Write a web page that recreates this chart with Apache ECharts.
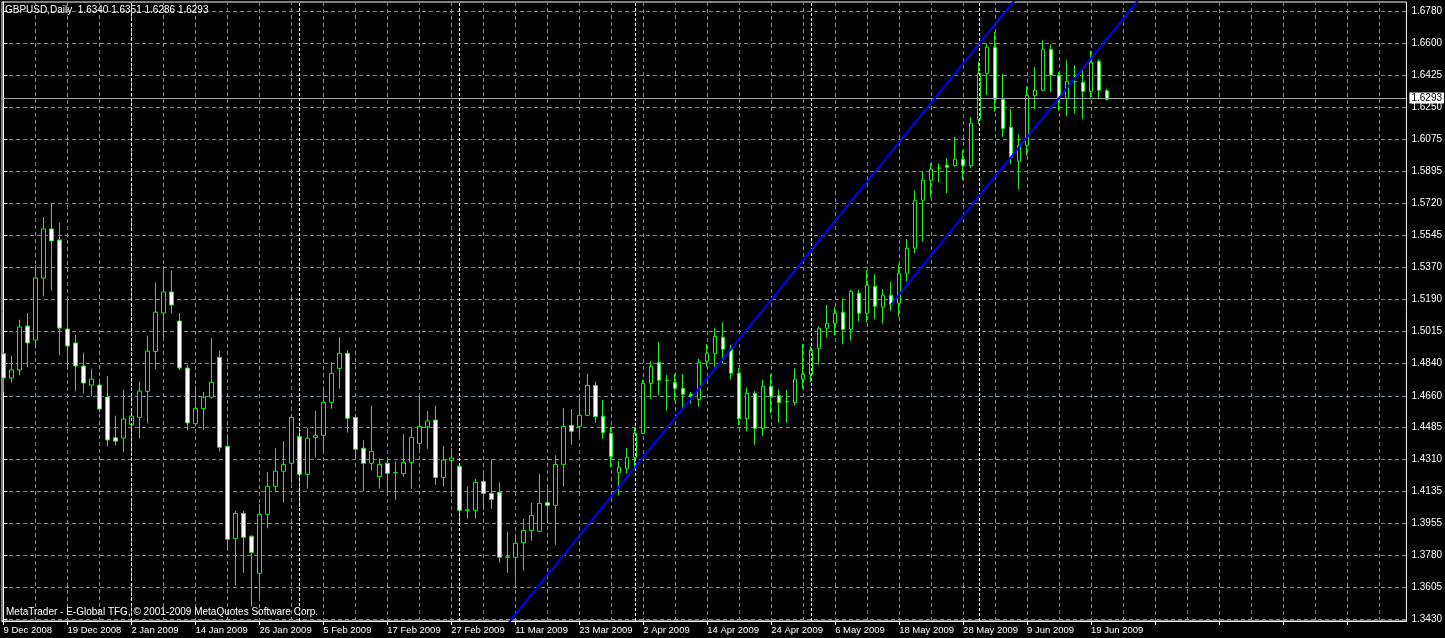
<!DOCTYPE html>
<html><head><meta charset="utf-8">
<script src="https://cdn.jsdelivr.net/npm/echarts@6/dist/echarts.min.js"></script>
<style>html,body{margin:0;padding:0;background:#000;}#c{width:1445px;height:638px;}</style>
</head><body><div id="c"></div><script>
const headerText = 'GBPUSD,Daily  1.6340 1.6351 1.6286 1.6293';
const footerText = 'MetaTrader - E-Global TFG, \u00A9 2001-2009 MetaQuotes Software Corp.';
const dates = [
'2008.12.09','2008.12.10','2008.12.11','2008.12.12','2008.12.15','2008.12.16','2008.12.17','2008.12.18','2008.12.19','2008.12.22','2008.12.23','2008.12.24','2008.12.26','2008.12.29','2008.12.30','2008.12.31',
'2009.01.02','2009.01.05','2009.01.06','2009.01.07','2009.01.08','2009.01.09','2009.01.12','2009.01.13','2009.01.14','2009.01.15','2009.01.16','2009.01.19','2009.01.20','2009.01.21','2009.01.22','2009.01.23','2009.01.26','2009.01.27','2009.01.28','2009.01.29','2009.01.30',
'2009.02.02','2009.02.03','2009.02.04','2009.02.05','2009.02.06','2009.02.09','2009.02.10','2009.02.11','2009.02.12','2009.02.13','2009.02.16','2009.02.17','2009.02.18','2009.02.19','2009.02.20','2009.02.23','2009.02.24','2009.02.25','2009.02.26','2009.02.27',
'2009.03.02','2009.03.03','2009.03.04','2009.03.05','2009.03.06','2009.03.09','2009.03.10','2009.03.11','2009.03.12','2009.03.13','2009.03.16','2009.03.17','2009.03.18','2009.03.19','2009.03.20','2009.03.23','2009.03.24','2009.03.25','2009.03.26','2009.03.27','2009.03.30','2009.03.31',
'2009.04.01','2009.04.02','2009.04.03','2009.04.06','2009.04.07','2009.04.08','2009.04.09','2009.04.10','2009.04.13','2009.04.14','2009.04.15','2009.04.16','2009.04.17','2009.04.20','2009.04.21','2009.04.22','2009.04.23','2009.04.24','2009.04.27','2009.04.28','2009.04.29','2009.04.30',
'2009.05.01','2009.05.04','2009.05.05','2009.05.06','2009.05.07','2009.05.08','2009.05.11','2009.05.12','2009.05.13','2009.05.14','2009.05.15','2009.05.18','2009.05.19','2009.05.20','2009.05.21','2009.05.22','2009.05.25','2009.05.26','2009.05.27','2009.05.28','2009.05.29',
'2009.06.01','2009.06.02','2009.06.03','2009.06.04','2009.06.05','2009.06.08','2009.06.09','2009.06.10','2009.06.11','2009.06.12','2009.06.15','2009.06.16','2009.06.17','2009.06.18','2009.06.19','2009.06.22','2009.06.23'
];
const opens = [
1.4892,1.4758,1.4802,1.5044,1.4967,1.5309,1.5579,1.5518,1.5028,1.4951,1.4824,1.4719,1.4719,1.4653,1.4429,1.4427,
1.4502,1.4541,1.4684,1.4904,1.5116,1.5232,1.5072,1.4813,1.4506,1.4589,1.4652,1.4872,1.4382,1.3873,1.4012,1.3886,1.3682,1.4007,1.4161,1.4244,1.4288,
1.4435,1.4227,1.4431,1.4442,1.4624,1.4811,1.4894,1.4541,1.4371,1.4288,1.4214,1.4288,1.4236,1.4231,1.4293,1.4398,1.4489,1.4526,1.4210,1.4304,
1.4271,1.4029,1.4029,1.4188,1.4122,1.4128,1.3770,1.3770,1.3850,1.3918,1.3913,1.4071,1.4056,1.4282,1.4497,1.4490,1.4552,1.4717,1.4547,1.4453,1.4236,1.4258,
1.4321,1.4453,1.4728,1.4844,1.4745,1.4734,1.4701,1.4668,1.4640,1.4850,1.4894,1.4982,1.4916,1.4784,1.4534,1.4673,1.4479,1.4712,1.4661,1.4627,1.4622,1.4751,
1.4778,1.4920,1.5032,1.5059,1.5120,1.5026,1.5225,1.5114,1.5263,1.5148,1.5214,1.5170,1.5335,1.5473,1.5737,1.5847,1.5913,1.5930,1.5928,1.5963,1.5928,
1.6181,1.6436,1.6580,1.6293,1.6139,1.5952,1.6040,1.6315,1.6343,1.6569,1.6426,1.6299,1.6390,1.6387,1.6337,1.6503,1.6340
];
const highs = [
1.4901,1.4881,1.5079,1.5116,1.5380,1.5645,1.5722,1.5614,1.5189,1.4996,1.4897,1.4809,1.4752,1.4770,1.4550,1.4693,
1.4574,1.4737,1.4991,1.5283,1.5375,1.5349,1.5116,1.4831,1.4714,1.4681,1.4979,1.4907,1.4446,1.4025,1.4025,1.3891,1.4062,1.4240,1.4371,1.4411,1.4560,
1.4468,1.4481,1.4576,1.4710,1.4846,1.4984,1.4912,1.4560,1.4416,1.4604,1.4315,1.4310,1.4300,1.4449,1.4482,1.4662,1.4576,1.4604,1.4383,1.4372,
1.4288,1.4159,1.4201,1.4238,1.4310,1.4183,1.3911,1.3887,1.3981,1.4069,1.4229,1.4150,1.4332,1.4593,1.4587,1.4648,1.4780,1.4736,1.4637,1.4490,1.4299,1.4372,
1.4486,1.4747,1.4850,1.4956,1.4774,1.4780,1.4780,1.4681,1.4864,1.4945,1.5032,1.5065,1.4940,1.4813,1.4706,1.4686,1.4747,1.4778,1.4697,1.4692,1.4811,1.4945,
1.4931,1.5041,1.5159,1.5148,1.5197,1.5243,1.5243,1.5353,1.5331,1.5247,1.5287,1.5384,1.5524,1.5792,1.5893,1.5941,1.5941,1.5969,1.6086,1.6014,1.6196,
1.6501,1.6602,1.6664,1.6433,1.6240,1.6100,1.6363,1.6471,1.6618,1.6596,1.6444,1.6508,1.6481,1.6464,1.6561,1.6514,1.6351
];
const lows = [
1.4679,1.4734,1.4772,1.4816,1.4921,1.5208,1.5241,1.4882,1.4802,1.4684,1.4673,1.4657,1.4568,1.4381,1.4386,1.4348,
1.4372,1.4425,1.4508,1.4805,1.4976,1.5114,1.4802,1.4469,1.4490,1.4472,1.4644,1.4352,1.3807,1.3617,1.3685,1.3498,1.3544,1.3930,1.4128,1.4071,1.4178,
1.4049,1.4148,1.4319,1.4361,1.4589,1.4699,1.4457,1.4310,1.4134,1.4247,1.4148,1.4109,1.4087,1.4214,1.4148,1.4361,1.4368,1.4170,1.4159,1.4104,
1.3953,1.3983,1.3983,1.4030,1.4038,1.3742,1.3685,1.3626,1.3696,1.3861,1.3908,1.3957,1.3839,1.4159,1.4390,1.4435,1.4548,1.4512,1.4423,1.4266,1.4111,1.4232,
1.4269,1.4449,1.4644,1.4662,1.4578,1.4633,1.4585,1.4616,1.4600,1.4820,1.4820,1.4839,1.4750,1.4497,1.4464,1.4390,1.4438,1.4563,1.4512,1.4512,1.4609,1.4699,
1.4734,1.4832,1.4982,1.4993,1.4944,1.4964,1.5069,1.5063,1.5081,1.5059,1.5129,1.5096,1.5291,1.5445,1.5509,1.5754,1.5836,1.5776,1.5922,1.5849,1.5915,
1.6157,1.6317,1.6225,1.6087,1.5937,1.5799,1.5983,1.6238,1.6337,1.6334,1.6231,1.6201,1.6214,1.6183,1.6293,1.6293,1.6286
];
const closes = [
1.4758,1.4802,1.5039,1.4951,1.5309,1.5579,1.5513,1.5033,1.4934,1.4824,1.4730,1.4752,1.4587,1.4416,1.4410,1.4532,
1.4548,1.4686,1.4906,1.5121,1.5232,1.5160,1.4813,1.4510,1.4591,1.4652,1.4734,1.4376,1.3869,1.4012,1.3880,1.3797,1.4007,1.4161,1.4244,1.4282,1.4541,
1.4227,1.4426,1.4442,1.4624,1.4784,1.4894,1.4536,1.4365,1.4288,1.4354,1.4282,1.4232,1.4238,1.4293,1.4431,1.4491,1.4521,1.4210,1.4306,1.4317,
1.4029,1.4031,1.4183,1.4122,1.4089,1.3770,1.3772,1.3847,1.3918,1.4001,1.4067,1.4056,1.4282,1.4491,1.4464,1.4552,1.4717,1.4545,1.4457,1.4324,1.4266,1.4321,
1.4453,1.4728,1.4822,1.4745,1.4743,1.4701,1.4668,1.4655,1.4844,1.4894,1.4987,1.4916,1.4784,1.4534,1.4673,1.4479,1.4712,1.4655,1.4622,1.4629,1.4751,1.4778,
1.4911,1.5032,1.5059,1.5114,1.5026,1.5236,1.5114,1.5269,1.5153,1.5214,1.5164,1.5335,1.5473,1.5737,1.5847,1.5908,1.5915,1.5919,1.5963,1.5928,1.6161,
1.6436,1.6580,1.6293,1.6133,1.5974,1.6040,1.6315,1.6343,1.6569,1.6426,1.6299,1.6392,1.6392,1.6337,1.6497,1.6343,1.6293
];
const priceTicks = [1.3430,1.3605,1.3780,1.3955,1.4135,1.4310,1.4485,1.4660,1.4840,1.5015,1.5190,1.5370,1.5545,1.5720,1.5895,1.6075,1.6250,1.6425,1.6600,1.6780];
const upperChannel = [[60, 1.3237], [135, 1.7303]];
const lowerChannel = [[111, 1.5162], [150, 1.7277]];
const bidPrice = 1.6293;

const MON = ['Jan','Feb','Mar','Apr','May','Jun','Jul','Aug','Sep','Oct','Nov','Dec'];
function fmtDate(s){ const p = s.split('.'); return (+p[2]) + ' ' + MON[+p[1]-1] + ' ' + p[0]; }
const FONT = 'Liberation Sans';
const labelIdx = dates.map((d,i)=>i).filter(i=>i%8===0);
const tickIdx = []; for (let i=0;i<=168;i+=8) tickIdx.push(i);
const midGridIdx = []; for (let i=4;i<=172;i+=8) midGridIdx.push(i);
const monthStarts = dates.map((d,i)=>i).filter(i=> i>0 && dates[i].slice(5,7)!==dates[i-1].slice(5,7));

const candles = dates.map((d,i)=>[i, opens[i], closes[i], lows[i], highs[i]]);
const chart = echarts.init(document.getElementById('c'));
const gridColor = '#778899';
const gridLine = {color:gridColor, type:[4,3], width:1};
chart.setOption({
  backgroundColor:'#000',
  animation:false,
  grid:{left:2, right:38, top:2, bottom:17, show:true, borderColor:'#fff', borderWidth:1},
  graphic:[
    {type:'text', left:5, top:5, z:10, style:{text:headerText, fill:'#fff', font:'10px "'+FONT+'"'}},
    {type:'text', left:6, top:607, z:10, style:{text:footerText, fill:'#fff', font:'10px "'+FONT+'"'}}
  ],
  xAxis:{type:'value', min:-0.1875, max:175.4375,
    axisLine:{show:true, lineStyle:{color:'#fff'}},
    axisTick:{show:true, customValues:tickIdx, length:4, lineStyle:{color:'#fff'}},
    axisLabel:{customValues:labelIdx, formatter:v=>{const i=Math.round(v); return dates[i]?fmtDate(dates[i]):'';}, color:'#fff', fontFamily:FONT, fontSize:9.5, align:'left', margin:4},
    splitLine:{show:true, lineStyle:gridLine}
  },
  yAxis:{type:'value', position:'right', min:1.341896, max:1.682959, scale:true,
    axisLine:{show:true, lineStyle:{color:'#fff'}},
    axisTick:{show:true, customValues:priceTicks, length:4, lineStyle:{color:'#fff'}},
    axisLabel:{customValues:priceTicks, formatter:v=>v.toFixed(4), color:'#fff', fontFamily:FONT, fontSize:10, margin:5},
    splitLine:{show:true, lineStyle:gridLine}
  },
  series:[
    {type:'line', data:[], silent:true, z:1,
      markLine:{symbol:['none','none'], silent:true, animation:false, z:1,
        data: midGridIdx.map(i=>({xAxis:i, lineStyle:gridLine, label:{show:false}}))}
    },
    {type:'candlestick', data:candles, dimensions:['idx','open','close','lowest','highest'], encode:{x:0, y:[1,2,3,4]},
      barWidth:4, z:3,
      itemStyle:{color:'#000', color0:'#fff', borderColor:'#00ff00', borderColor0:'#00ff00', borderWidth:1},
      markLine:{symbol:['none','none'], silent:true, animation:false,
        data:[
          ...monthStarts.map(i=>({xAxis:i, lineStyle:{color:'#fff', type:[3,2], width:1}, label:{show:false}})),
          {yAxis:bidPrice, lineStyle:{color:'#9aa0a6', type:'solid', width:1},
            label:{show:true, position:'end', formatter:bidPrice.toFixed(4), backgroundColor:'#fff', color:'#000', padding:[1,2,0,2], fontSize:10, fontFamily:FONT, distance:3}}
        ]}
    },
    {type:'line', data:upperChannel, showSymbol:false, symbol:'none', lineStyle:{color:'#0000ff', width:2}, z:5, clip:true},
    {type:'line', data:lowerChannel, showSymbol:false, symbol:'none', lineStyle:{color:'#0000ff', width:2}, z:5, clip:true}
  ]
});
</script></body></html>
